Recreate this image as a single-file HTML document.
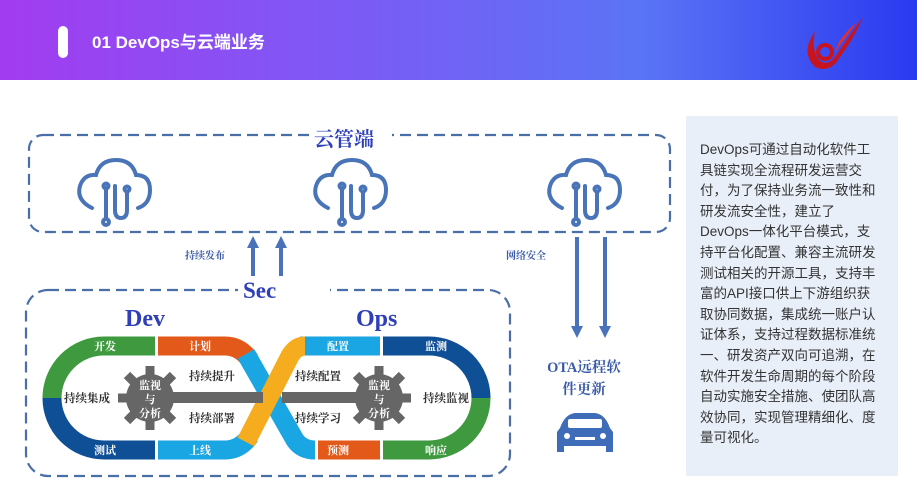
<!DOCTYPE html>
<html><head><meta charset="utf-8"><style>
body{margin:0;width:917px;height:490px;overflow:hidden;background:#fff;font-family:"Liberation Sans","Noto Sans CJK SC",sans-serif;position:relative}
.hdr{position:absolute;left:0;top:0;width:917px;height:80px;background:linear-gradient(90deg,#a23cf0,#7a5cf5 40%,#5a74f5 70%,#2a3af0)}
.pill{position:absolute;left:58px;top:26px;width:10px;height:32px;background:#fff;border-radius:5px}
.title{position:absolute;left:92px;top:28px;color:#fff;font-size:17px;font-weight:bold}
.panel{position:absolute;left:686px;top:116px;width:212px;height:360px;background:#e9eff8}
.panel p{margin:0;position:absolute;left:14px;top:24px;white-space:nowrap;font-size:13.5px;line-height:20.6px;color:#333}
.ser{font-family:"Liberation Serif","Noto Serif CJK SC",serif;font-weight:bold;position:absolute}
</style></head><body>
<div class="hdr"><div class="pill"></div><div class="title">01 DevOps与云端业务</div></div>
<svg style="position:absolute;left:795px;top:12px" width="70" height="62" viewBox="0 0 70 62">
<path d="M20 20 Q5 40 20 55 Q35 62 45 45 Q60 25 68 5 Q50 30 40 45 Q32 55 24 48 Q16 38 20 20Z" fill="#c8141e"/>
<circle cx="30" cy="40" r="7" fill="none" stroke="#c8141e" stroke-width="4"/>
<path d="M40 40 Q55 20 62 10 Q52 18 44 30Z" fill="#e03030"/>
</svg>
<svg style="position:absolute;left:0;top:0" width="917" height="490">
<defs><marker id="ah" markerWidth="3" markerHeight="3" refX="1" refY="1.5" orient="auto"><path d="M0 0L3 1.5L0 3Z" fill="#4a72b8"/></marker></defs>
<rect x="29" y="135" width="641" height="97" rx="14" fill="none" stroke="#4a6fa8" stroke-width="2.2" stroke-dasharray="11 6"/>
<rect x="310" y="125" width="82" height="20" fill="#fff"/>
<rect x="26" y="290" width="484" height="186" rx="22" fill="none" stroke="#4a6fa8" stroke-width="2.2" stroke-dasharray="11 6"/>
<rect x="238" y="280" width="92" height="22" fill="#fff"/>
<g fill="none" stroke="#4a74b8" stroke-width="4" stroke-linecap="round">
<g id="cl"><path d="M92 208 Q76 200 80 186 Q84 174 96 175 Q100 160 116 160 Q132 160 136 175 Q150 175 150 190 Q150 204 138 208"/>
<path d="M106 188 V218 M115 186 V210 Q115 218 121 218 Q127 218 127 210 V192"/>
<circle cx="106" cy="222" r="3" /><circle cx="106" cy="186" r="2.5"/><circle cx="127" cy="189" r="2.5"/></g>
<use href="#cl" x="236"/><use href="#cl" x="470"/>
</g>
<g stroke="#4a72b8" stroke-width="4" fill="none">
<line x1="253" y1="276" x2="253" y2="244" marker-end="url(#ah)"/><line x1="281" y1="276" x2="281" y2="244" marker-end="url(#ah)"/>
<line x1="577" y1="237" x2="577" y2="330" marker-end="url(#ah)"/><line x1="605" y1="237" x2="605" y2="330" marker-end="url(#ah)"/>
</g>
<g fill="none" stroke-width="19">
<path d="M155 346 H104 A52 52 0 0 0 52 398" stroke="#3f9a3f"/>
<path d="M52 398 A52 52 0 0 0 104 450 H155" stroke="#0f4f96"/>
<path d="M158 346 H225 Q240 346 250 360" stroke="#e2591a"/>
<path d="M158 450 H225 Q240 450 250 436" stroke="#1aa6e2"/>
<path d="M246 354 L295 440 Q302 450 315 450" stroke="#1aa6e2"/>
<path d="M318 450 H380" stroke="#e2591a"/>
<path d="M300 346 H380" stroke="#1aa6e2"/>
<path d="M383 346 H429 A52 52 0 0 1 481 398" stroke="#0f4f96"/>
<path d="M481 398 A52 52 0 0 1 429 450 H383" stroke="#3f9a3f"/>
<path d="M246 442 L290 356 Q296 346 305 346" stroke="#f5ac1e"/>
</g>
<rect x="160" y="392" width="103" height="11" fill="#666"/><rect x="282" y="392" width="96" height="11" fill="#666"/>
<g fill="#666"><g id="gr"><circle cx="150" cy="398" r="24"/>
<g stroke="#666" stroke-width="9"><line x1="150" y1="366" x2="150" y2="430"/><line x1="118" y1="398" x2="182" y2="398"/><line x1="127" y1="375" x2="173" y2="421"/><line x1="173" y1="375" x2="127" y2="421"/></g></g>
<use href="#gr" x="229"/></g>
<g font-family="Liberation Serif,Noto Serif CJK SC,serif" font-weight="bold" font-size="11" fill="#fff" text-anchor="middle">
<text x="150" y="389">监视</text><text x="150" y="403">与</text><text x="150" y="417">分析</text>
<text x="379" y="389">监视</text><text x="379" y="403">与</text><text x="379" y="417">分析</text>
<text x="105" y="350">开发</text><text x="200" y="350">计划</text><text x="105" y="454">测试</text><text x="200" y="454">上线</text>
<text x="338" y="350">配置</text><text x="436" y="350">监测</text><text x="338" y="454">预测</text><text x="436" y="454">响应</text>
</g>
<g font-family="Liberation Serif,Noto Serif CJK SC,serif" font-weight="bold" font-size="11.5" fill="#333" text-anchor="middle">
<text x="87" y="402">持续集成</text><text x="212" y="380">持续提升</text><text x="212" y="422">持续部署</text>
<text x="318" y="380">持续配置</text><text x="318" y="422">持续学习</text><text x="446" y="402">持续监视</text>
</g>
<g font-family="Liberation Serif,Noto Serif CJK SC,serif" font-weight="bold" font-size="10" fill="#3a5aa8">
<text x="185" y="259">持续发布</text><text x="506" y="259">网络安全</text></g>
<g fill="#3f6cb8"><path d="M560 428 Q565 414 575 413 H595 Q605 414 610 428 L613 432 V452 H606 V446 H564 V452 H557 V432Z"/>
<rect x="568" y="419" width="34" height="9" fill="#fff" rx="2"/><circle cx="567" cy="436" r="3" fill="#fff"/><circle cx="603" cy="436" r="3" fill="#fff"/><rect x="575" y="437" width="20" height="3" fill="#fff"/></g>
</svg>
<div class="ser" style="left:314px;top:123px;font-size:20px;color:#2f3fb8">云管端</div>
<div class="ser" style="left:243px;top:278px;font-size:23px;color:#2f3fb8">Sec</div>
<div class="ser" style="left:125px;top:306px;font-size:24px;color:#2f3fb8">Dev</div>
<div class="ser" style="left:356px;top:306px;font-size:24px;color:#2f3fb8">Ops</div>
<div class="ser" style="left:544px;top:357px;font-size:14.5px;color:#3a5aa8;line-height:22px;text-align:center;width:80px">OTA远程软<br>件更新</div>
<div class="panel"><p>DevOps可通过自动化软件工<br>具链实现全流程研发运营交<br>付，为了保持业务流一致性和<br>研发流安全性，建立了<br>DevOps一体化平台模式，支<br>持平台化配置、兼容主流研发<br>测试相关的开源工具，支持丰<br>富的API接口供上下游组织获<br>取协同数据，集成统一账户认<br>证体系，支持过程数据标准统<br>一、研发资产双向可追溯，在<br>软件开发生命周期的每个阶段<br>自动实施安全措施、使团队高<br>效协同，实现管理精细化、度<br>量可视化。</p></div>
</body></html>
